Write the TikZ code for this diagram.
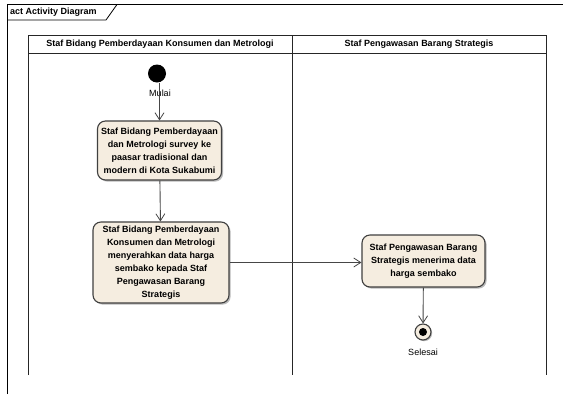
\documentclass[tikz,border=0pt]{standalone}
\usepackage{fontspec}
\setmainfont{Liberation Sans}
\usetikzlibrary{arrows.meta,shadows}
\definecolor{actfill}{RGB}{245,237,224}
\definecolor{actline}{RGB}{64,64,64}
\definecolor{flowline}{RGB}{70,70,70}
\tikzset{
  frameline/.style={draw=black, line width=0.8pt},
  laneline/.style={draw=black!85, line width=0.95pt},
  action/.style={draw=actline, line width=1.1pt, fill=actfill, rounded corners=8pt,
    align=center, font=\fontsize{9}{13}\selectfont\bfseries, inner sep=0pt,
    drop shadow={shadow xshift=1.6pt, shadow yshift=-1.6pt, fill=black!45, opacity=0.6}},
  flow/.style={draw=flowline, line width=0.9pt, -{Straight Barb[length=7pt,width=9pt,line width=0.8pt]}},
  lbl/.style={font=\fontsize{9}{11}\selectfont, inner sep=0pt},
  hdr/.style={font=\fontsize{9}{11}\selectfont\bfseries, inner sep=0pt},
}
\begin{document}
\begin{tikzpicture}[x=1pt,y=-1pt]
\useasboundingbox[fill=white] (0,0) rectangle (564,394);
% diagram frame and its name tab
\draw[frameline] (7,394) -- (7,4.5) -- (563,4.5);
\draw[frameline] (7,20) -- (106,20) -- (117,4.5);
\node[hdr, anchor=west] (title) at (10,12.5) {act Activity Diagram};
% swimlanes
\draw[laneline] (28,375) -- (28,35) -- (546,35) -- (546,375);
\draw[laneline] (28,53) -- (546,53);
\draw[laneline] (292,35) -- (292,375);
\node[hdr] (laneA) at (160,44.5) {Staf Bidang Pemberdayaan Konsumen dan Metrologi};
\node[hdr] (laneB) at (419,44.5) {Staf Pengawasan Barang Strategis};
% start node
\node[circle, fill=black, minimum size=18pt, inner sep=0pt] (start) at (157,73.5) {};
\node[lbl] (startlbl) at (160,93) {Mulai};
% actions
\node[action, minimum width=124pt, minimum height=59pt] (a1) at (159.5,150.5)
  {Staf Bidang Pemberdayaan\\dan Metrologi survey ke\\paasar tradisional dan\\modern di Kota Sukabumi};
\node[action, minimum width=136pt, minimum height=81pt] (a2) at (161,262.5)
  {Staf Bidang Pemberdayaan\\Konsumen dan Metrologi\\menyerahkan data harga\\sembako kepada Staf\\Pengawasan Barang\\Strategis};
\node[action, minimum width=123pt, minimum height=52pt] (a3) at (423.5,261)
  {Staf Pengawasan Barang\\Strategis menerima data\\harga sembako};
% final node
\node[circle, draw=actline, line width=1.1pt, fill=actfill, minimum size=16pt, inner sep=0pt,
  drop shadow={shadow xshift=1.2pt, shadow yshift=-1.2pt, fill=black!45, opacity=0.6}] (final) at (423,332) {};
\node[circle, fill=black, minimum size=8pt, inner sep=0pt] (finaldot) at (final) {};
\node[lbl] (endlbl) at (423,352) {Selesai};
% control flows
\draw[flow] (start.south -| a1.north) -- (a1.north);
\draw[flow] (a1) -- (a2);
\draw[flow] (a2.east) -- (a2.east -| a3.west);
\draw[flow] (a3) -- (final);
\end{tikzpicture}
\end{document}
